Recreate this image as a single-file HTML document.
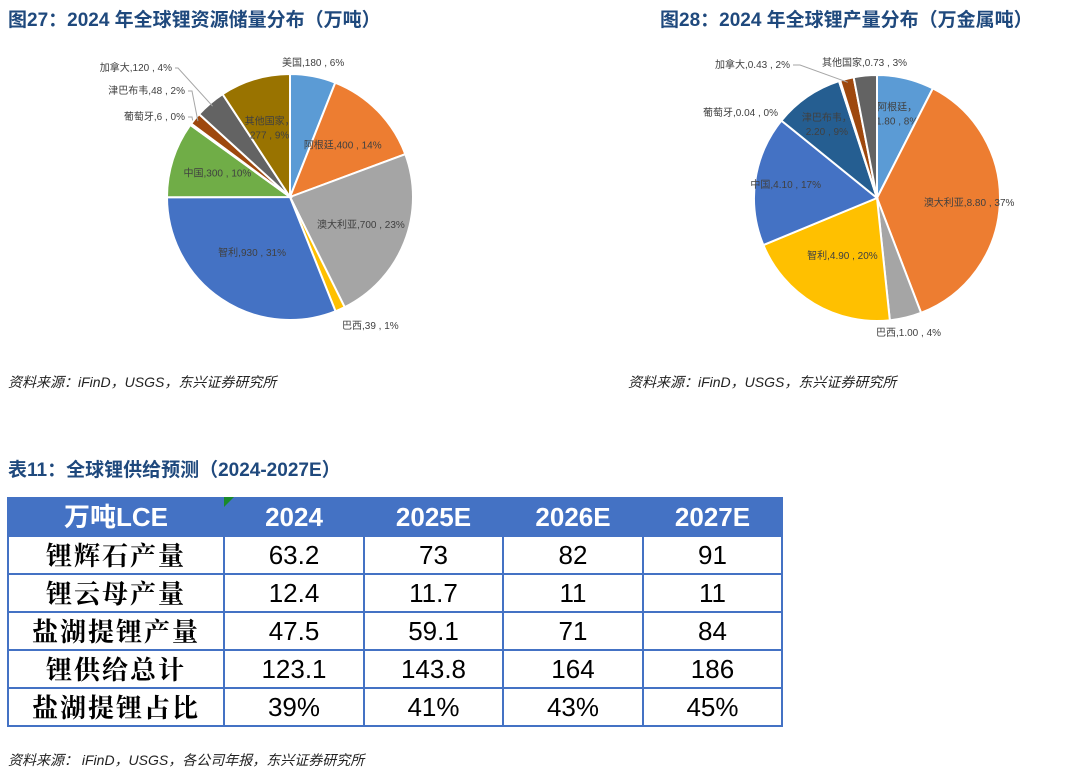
<!DOCTYPE html>
<html><head><meta charset="utf-8">
<style>
body{margin:0;background:#fff;width:1080px;height:776px;overflow:hidden;position:relative;font-family:"Liberation Sans","Noto Sans CJK SC",sans-serif;}
.title{position:absolute;font-weight:bold;font-size:19px;color:#1f497d;top:5px;white-space:nowrap;}
.src{position:absolute;font-style:italic;font-size:14px;color:#222;white-space:nowrap;}
svg{position:absolute;left:0;top:0;}
table{position:absolute;left:7px;top:497px;border-collapse:collapse;}
td{border:2px solid #4472c4;height:34px;padding:0;text-align:center;font-size:26px;color:#000;font-family:"Liberation Sans","Noto Serif CJK SC",serif;line-height:30px;}
tr{height:38px;}
td.h{background:#4472c4;color:#fff;font-weight:bold;font-family:"Liberation Sans","Noto Sans CJK SC",sans-serif;}
td.l{font-family:"Noto Serif CJK SC","WenQuanYi Zen Hei",serif;font-weight:bold;letter-spacing:2px;}
</style></head><body>
<div class="title" style="left:8px">图27：2024 年全球锂资源储量分布（万吨）</div>
<div class="title" style="left:660px">图28：2024 年全球锂产量分布（万金属吨）</div>
<svg id="pies" width="1080" height="360"></svg>
<div class="src" style="left:8px;top:372px">资料来源：iFinD，USGS，东兴证券研究所</div>
<div class="src" style="left:628px;top:372px">资料来源：iFinD，USGS，东兴证券研究所</div>
<div class="title" style="left:8px;top:455px">表11：全球锂供给预测（2024-2027E）</div>
<table>
<tr><td class="h" style="width:214px">万吨LCE</td><td class="h" style="width:138px">2024</td><td class="h" style="width:137px">2025E</td><td class="h" style="width:138px">2026E</td><td class="h" style="width:137px">2027E</td></tr>
<tr><td class="l">锂辉石产量</td><td>63.2</td><td>73</td><td>82</td><td>91</td></tr>
<tr><td class="l">锂云母产量</td><td>12.4</td><td>11.7</td><td>11</td><td>11</td></tr>
<tr><td class="l">盐湖提锂产量</td><td>47.5</td><td>59.1</td><td>71</td><td>84</td></tr>
<tr><td class="l">锂供给总计</td><td>123.1</td><td>143.8</td><td>164</td><td>186</td></tr>
<tr><td class="l">盐湖提锂占比</td><td>39%</td><td>41%</td><td>43%</td><td>45%</td></tr>
</table>
<div style="position:absolute;left:224px;top:497px;width:0;height:0;border-top:10px solid #1a8a2a;border-right:10px solid transparent"></div>
<div class="src" style="left:8px;top:750px">资料来源： iFinD，USGS，各公司年报，东兴证券研究所</div>
<script>
const reserveNames=["美国","阿根廷","澳大利亚","巴西","智利","中国","葡萄牙","津巴布韦","加拿大","其他国家"];
const reserveValues=[180,400,700,39,930,300,6,48,120,277];
const reservePct=["6%","14%","23%","1%","31%","10%","0%","2%","4%","9%"];
const prodNames=["阿根廷","澳大利亚","巴西","智利","中国","津巴布韦","葡萄牙","加拿大","其他国家"];
const prodValues=[1.80,8.80,1.00,4.90,4.10,2.20,0.04,0.43,0.73];
const prodPct=["8%","37%","4%","20%","17%","9%","0%","2%","3%"];
const NS="http://www.w3.org/2000/svg";
const svg=document.getElementById('pies');
function mk(t,a){const e=document.createElementNS(NS,t);for(const k in a)e.setAttribute(k,a[k]);svg.appendChild(e);return e;}
function pie(cx,cy,r,names,vals,pcts,colors,lab,fmt){
  const tot=vals.reduce((a,b)=>a+b,0);let a0=-Math.PI/2;
  vals.forEach((v,i)=>{
    const a1=a0+v/tot*2*Math.PI;
    const x0=cx+r*Math.cos(a0),y0=cy+r*Math.sin(a0),x1=cx+r*Math.cos(a1),y1=cy+r*Math.sin(a1);
    const p=mk('path',{d:`M${cx},${cy}L${x0},${y0}A${r},${r} 0 ${a1-a0>Math.PI?1:0} 1 ${x1},${y1}Z`,fill:colors[i],stroke:'#fff','stroke-width':2});
    
    
    const am=(a0+a1)/2, L=lab[i];
    let tx,ty,anchor='middle';
    if(L.pos){tx=L.pos[0];ty=L.pos[1];anchor=L.a||'end';
      if(L.line){const l=mk('polyline',{points:`${tx+3},${ty-3} ${L.line[0]},${ty-3} ${cx+r*0.97*Math.cos(am)},${cy+r*0.97*Math.sin(am)}`,fill:'none',stroke:'#a6a6a6','stroke-width':1});
        
        }
    }else{tx=cx+r*L.f*Math.cos(am);ty=cy+r*L.f*Math.sin(am)+3;}
    const txt=fmt(vals[i]);
    const lines=L.two?[names[i]+'，',txt+' , '+pcts[i]]:[names[i]+','+txt+' , '+pcts[i]];
    lines.forEach((s,k)=>{const t=mk('text',{x:tx,y:ty+k*14-(L.two?7:0),'text-anchor':anchor,'font-size':10,fill:'#404040'});t.textContent=s;
      
      });
    a0=a1;
  });
}
pie(290,197,123,reserveNames,reserveValues,reservePct,
 ['#5b9bd5','#ed7d31','#a5a5a5','#ffc000','#4472c4','#70ad47','#255e91','#9e480e','#636363','#997300'],
 [{pos:[282,66],a:'start'},{f:0.6},{f:0.62},{pos:[342,329],a:'start'},{f:0.55},{f:0.62},{pos:[185,120],a:'end',line:[192]},{pos:[185,94],a:'end',line:[192]},{pos:[172,71],a:'end',line:[178]},{f:0.58,two:true}],
 v=>String(v));
pie(877,198,123,prodNames,prodValues,prodPct,
 ['#5b9bd5','#ed7d31','#a5a5a5','#ffc000','#4472c4','#255e91','#264478','#9e480e','#636363'],
 [{f:0.7,two:true},{f:0.75},{pos:[876,336],a:'start'},{f:0.55},{f:0.75},{f:0.72,two:true},{pos:[778,116],a:'end'},{pos:[790,68],a:'end',line:[800]},{pos:[822,66],a:'start'}],
 v=>v.toFixed(2));
</script>
</body></html>
